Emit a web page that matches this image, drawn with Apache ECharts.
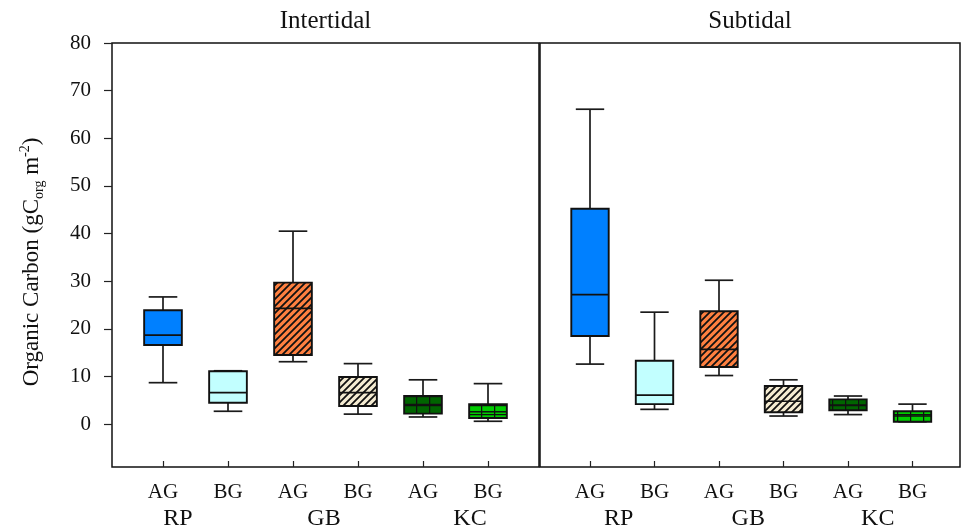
<!DOCTYPE html>
<html>
<head>
<meta charset="utf-8">
<script src="https://cdn.jsdelivr.net/npm/echarts@6/dist/echarts.min.js"></script>
<style>
  html, body { margin: 0; padding: 0; background: #fff; }
  #chart { width: 965px; height: 531px; }
</style>
</head>
<body>
<div id="chart"></div>
<script>
// Categories
const parts = ['AG', 'BG', 'AG', 'BG', 'AG', 'BG'];
const sites = ['RP', 'GB', 'KC'];
const yTicks = [0, 80, 10]; // min, max, step of the labelled axis

// [min, Q1, median, Q3, max] per box
const intertidal = [
  [8.7, 16.6, 18.7, 23.9, 26.7],
  [2.7, 4.5, 6.6, 11.1, 11.2],
  [13.1, 14.5, 24.3, 29.7, 40.5],
  [2.1, 3.8, 6.6, 9.9, 12.7],
  [1.5, 2.2, 4.1, 5.9, 9.3],
  [0.6, 1.3, 2.6, 4.2, 8.5]
];
const subtidal = [
  [12.6, 18.5, 27.2, 45.2, 66.1],
  [3.1, 4.2, 6.1, 13.3, 23.5],
  [10.2, 12.0, 15.7, 23.7, 30.2],
  [1.7, 2.5, 4.8, 8.0, 9.3],
  [2.0, 2.9, 4.0, 5.2, 5.9],
  [0.5, 0.5, 1.7, 2.7, 4.2]
];

const FONT = "'Liberation Serif', 'Times New Roman', serif";

// fill patterns
function hatch(bg) {
  const c = document.createElement('canvas');
  c.width = 7; c.height = 7;
  const g = c.getContext('2d');
  g.fillStyle = bg; g.fillRect(0, 0, 7, 7);
  g.strokeStyle = '#111'; g.lineWidth = 1.8;
  g.beginPath();
  g.moveTo(-1, 8); g.lineTo(8, -1);
  g.moveTo(-1, 1); g.lineTo(1, -1);
  g.moveTo(6, 8); g.lineTo(8, 6);
  g.stroke();
  return { image: c, repeat: 'repeat' };
}
function cells(bg) {
  const c = document.createElement('canvas');
  c.width = 13; c.height = 9;
  const g = c.getContext('2d');
  g.fillStyle = bg; g.fillRect(0, 0, 13, 9);
  g.strokeStyle = '#111'; g.lineWidth = 1.5;
  g.beginPath();
  g.moveTo(0.5, 0); g.lineTo(0.5, 9);
  g.moveTo(0, 0.5); g.lineTo(13, 0.5);
  g.stroke();
  return { image: c, repeat: 'repeat' };
}
const fills = [
  '#0080FF',
  '#C2FFFF',
  hatch('#FF8040'),
  hatch('#F5ECD2'),
  cells('#006400'),
  cells('#00CC00')
];

function toItems(rows) {
  return rows.map((r, i) => [i].concat(r));
}

function renderBox(params, api) {
  const x = api.value(0);
  const band = api.size([1, 0])[0];
  const bw = band * 0.58, cw = band * 0.44;
  const pMin = api.coord([x, api.value(1)]);
  const pQ1 = api.coord([x, api.value(2)]);
  const pMed = api.coord([x, api.value(3)]);
  const pQ3 = api.coord([x, api.value(4)]);
  const pMax = api.coord([x, api.value(5)]);
  const cx = pMin[0];
  const line = { stroke: '#1a1a1a', lineWidth: 1.7 };
  return {
    type: 'group',
    children: [
      { type: 'line', shape: { x1: cx, y1: pMax[1], x2: cx, y2: pQ3[1] }, style: line },
      { type: 'line', shape: { x1: cx, y1: pQ1[1], x2: cx, y2: pMin[1] }, style: line },
      { type: 'line', shape: { x1: cx - cw / 2, y1: pMax[1], x2: cx + cw / 2, y2: pMax[1] }, style: line },
      { type: 'line', shape: { x1: cx - cw / 2, y1: pMin[1], x2: cx + cw / 2, y2: pMin[1] }, style: line },
      {
        type: 'rect',
        shape: { x: cx - bw / 2, y: pQ3[1], width: bw, height: pQ1[1] - pQ3[1] },
        style: { fill: fills[params.dataIndex], stroke: '#111', lineWidth: 1.9 }
      },
      { type: 'line', shape: { x1: cx - bw / 2, y1: pMed[1], x2: cx + bw / 2, y2: pMed[1] }, style: { stroke: '#111', lineWidth: 1.7 } }
    ]
  };
}

const chart = echarts.init(document.getElementById('chart'));

const hiddenX = (grid, pos) => ({ gridIndex: grid, type: 'category', data: sites, position: pos,
  axisLine: { show: false, onZero: false }, axisTick: { show: false }, axisLabel: { show: false } });
const hiddenY = (grid) => ({ gridIndex: grid, type: 'value', min: -9, max: 80, show: false });
const partAxis = (grid) => ({
  gridIndex: grid, type: 'category', data: parts, position: 'bottom',
  axisLine: { show: false, onZero: false },
  axisTick: { show: true, inside: true, alignWithLabel: true, length: 6, lineStyle: { color: '#222', width: 1.2 } },
  axisLabel: { fontFamily: FONT, fontSize: 21, color: '#111', margin: 15 }
});
const siteAxis = (grid) => ({
  gridIndex: grid, type: 'category', data: sites, position: 'bottom',
  axisLine: { show: false, onZero: false }, axisTick: { show: false },
  axisLabel: { fontFamily: FONT, fontSize: 24, color: '#111', margin: 41 }
});

const option = {
  animation: false,
  backgroundColor: '#fff',
  grid: [
    { left: 112, top: 43, width: 427, height: 424, show: true, borderColor: '#111', borderWidth: 1.5 },
    { left: 540, top: 43, width: 420, height: 424, show: true, borderColor: '#111', borderWidth: 1.5 },
    { left: 130.5, top: 43, width: 390, height: 424 },
    { left: 557.75, top: 43, width: 387, height: 424 },
    { left: 112, top: 43, width: 427, height: 381 },
    { left: 105, top: 43, width: 438, height: 424 },
    { left: 554, top: 43, width: 388.5, height: 424 }
  ],
  xAxis: [
    Object.assign(hiddenX(0, 'top'), { name: 'Intertidal', nameLocation: 'middle', nameGap: 9,
      nameTextStyle: { fontFamily: FONT, fontSize: 25, color: '#111' } }),
    Object.assign(hiddenX(1, 'top'), { name: 'Subtidal', nameLocation: 'middle', nameGap: 9,
      nameTextStyle: { fontFamily: FONT, fontSize: 25, color: '#111' } }),
    partAxis(2),
    partAxis(3),
    Object.assign(hiddenX(4, 'bottom'), { show: false }),
    siteAxis(5),
    siteAxis(6)
  ],
  yAxis: [
    {
      gridIndex: 0, type: 'value', min: -9, max: 80,
      axisLine: { show: false }, axisTick: { show: false }, axisLabel: { show: false }, splitLine: { show: false },
      name: 'Organic Carbon (gC{sub|org} m{sup|-2})', nameLocation: 'middle', nameGap: 66,
      nameTextStyle: {
        fontFamily: FONT, fontSize: 23, color: '#111', lineHeight: 28, padding: [0, 14, 0, 0],
        rich: {
          sub: { fontFamily: FONT, fontSize: 14, color: '#111', lineHeight: 14, verticalAlign: 'bottom' },
          sup: { fontFamily: FONT, fontSize: 14, color: '#111', lineHeight: 14, verticalAlign: 'top' }
        }
      }
    },
    hiddenY(1),
    hiddenY(2),
    hiddenY(3),
    {
      gridIndex: 4, type: 'value', min: yTicks[0], max: yTicks[1], interval: yTicks[2],
      axisLine: { show: false },
      axisTick: { show: true, length: 8, lineStyle: { color: '#222', width: 1.2 } },
      axisLabel: { fontFamily: FONT, fontSize: 21, color: '#111', margin: 21 },
      splitLine: { show: false }
    },
    hiddenY(5),
    hiddenY(6)
  ],
  series: [
    {
      type: 'custom', name: 'Intertidal', xAxisIndex: 2, yAxisIndex: 2,
      renderItem: renderBox, data: toItems(intertidal), encode: { x: 0, y: [1, 2, 3, 4, 5] }
    },
    {
      type: 'custom', name: 'Subtidal', xAxisIndex: 3, yAxisIndex: 3,
      renderItem: renderBox, data: toItems(subtidal), encode: { x: 0, y: [1, 2, 3, 4, 5] }
    }
  ]
};

chart.setOption(option);
</script>
</body>
</html>
